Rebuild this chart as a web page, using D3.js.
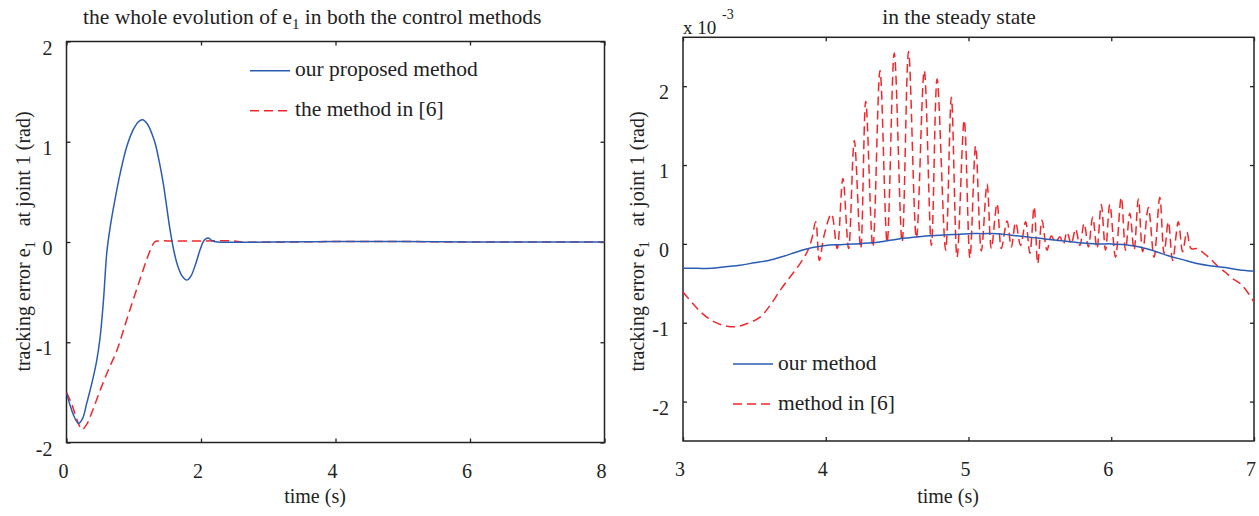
<!DOCTYPE html>
<html>
<head>
<meta charset="utf-8">
<script src="https://cdn.jsdelivr.net/npm/d3@7"></script>
<style>
  html, body { margin: 0; padding: 0; background: #fff; }
  svg { display: block; }
  text { font-family: "Liberation Serif", "DejaVu Serif", serif; fill: #222; }
</style>
</head>
<body>
<svg id="chart" width="1259" height="516"></svg>
<script>
// ---------------- DATA ----------------
// Left panel: whole evolution of e1 (rad)
const leftBlueT = [0, 0.05, 0.10, 0.18, 0.24, 0.30, 0.38, 0.45, 0.50, 0.55, 0.60, 0.65, 0.72, 0.80, 0.90, 1.00, 1.07, 1.13, 1.20, 1.27, 1.32, 1.38, 1.44, 1.49, 1.54, 1.60, 1.66, 1.72, 1.79, 1.85, 1.92, 1.99, 2.05, 2.11, 2.17, 2.25, 3.0, 4.0, 5.0, 6.0, 7.0, 8.0];
const leftBlueV = [-1.51, -1.62, -1.72, -1.81, -1.76, -1.61, -1.40, -1.18, -0.95, -0.58, -0.10, 0.15, 0.42, 0.69, 0.96, 1.13, 1.20, 1.22, 1.18, 1.08, 0.98, 0.80, 0.58, 0.35, 0.12, -0.10, -0.25, -0.34, -0.38, -0.34, -0.22, -0.07, 0.02, 0.04, 0.01, 0, 0, 0.005, 0.005, 0, 0, 0];
const leftRedT = [0, 0.08, 0.16, 0.23, 0.30, 0.40, 0.50, 0.62, 0.75, 0.87, 0.99, 1.10, 1.19, 1.26, 1.31, 1.37, 1.6, 2.0, 2.5, 2.6, 4.0, 5.0, 6.0, 8.0];
const leftRedV = [-1.50, -1.62, -1.78, -1.87, -1.82, -1.66, -1.48, -1.28, -1.08, -0.83, -0.58, -0.36, -0.18, -0.06, 0.0, 0.01, 0.01, 0.01, 0.01, 0, 0.005, 0.005, 0, 0];
const leftXTicks = [0, 2, 4, 6, 8];
const leftYTicks = [-2, -1, 0, 1, 2];

// Right panel: steady state (x 10^-3 rad)
const rightBlueT = [3.0, 3.1, 3.2, 3.3, 3.4, 3.5, 3.6, 3.7, 3.8, 3.9, 4.0, 4.1, 4.2, 4.3, 4.4, 4.5, 4.6, 4.7, 4.8, 4.9, 5.0, 5.1, 5.2, 5.3, 5.4, 5.5, 5.6, 5.7, 5.8, 5.9, 6.0, 6.1, 6.2, 6.3, 6.4, 6.5, 6.6, 6.7, 6.8, 6.9, 7.0];
const rightBlueV = [-0.31, -0.31, -0.31, -0.29, -0.27, -0.24, -0.21, -0.16, -0.10, -0.05, -0.02, -0.01, 0.0, 0.01, 0.03, 0.06, 0.08, 0.10, 0.11, 0.12, 0.13, 0.13, 0.13, 0.11, 0.09, 0.07, 0.05, 0.03, 0.01, 0.0, 0.0, -0.01, -0.04, -0.09, -0.15, -0.20, -0.25, -0.28, -0.30, -0.33, -0.345];
const rightRedT = [3.00, 3.07, 3.14, 3.22, 3.30, 3.37, 3.45, 3.54, 3.61, 3.68, 3.75, 3.82, 3.87, 3.90, 3.93, 3.955, 3.99, 4.04, 4.08, 4.12, 4.16, 4.20, 4.245, 4.28, 4.33, 4.38, 4.43, 4.48, 4.535, 4.58, 4.635, 4.69, 4.74, 4.78, 4.84, 4.88, 4.92, 4.97, 5.01, 5.05, 5.09, 5.13, 5.16, 5.20, 5.23, 5.27, 5.30, 5.33, 5.365, 5.40, 5.43, 5.46, 5.485, 5.515, 5.55, 5.58, 5.61, 5.64, 5.665, 5.69, 5.72, 5.75, 5.78, 5.81, 5.84, 5.87, 5.90, 5.93, 5.96, 5.99, 6.03, 6.07, 6.10, 6.13, 6.16, 6.19, 6.22, 6.26, 6.30, 6.34, 6.37, 6.40, 6.43, 6.47, 6.50, 6.53, 6.56, 6.60, 6.65, 6.70, 6.75, 6.80, 6.85, 6.90, 6.95, 7.00];
const rightRedV = [-0.61, -0.76, -0.89, -0.99, -1.04, -1.05, -1.01, -0.93, -0.78, -0.59, -0.42, -0.25, -0.10, 0.05, 0.28, -0.21, 0.12, 0.38, -0.06, 0.83, -0.06, 1.31, -0.06, 1.81, -0.04, 2.20, 0.02, 2.42, 0.02, 2.44, 0.07, 2.20, -0.02, 2.09, -0.08, 1.86, -0.17, 1.57, -0.18, 1.24, -0.09, 0.76, -0.06, 0.51, -0.06, 0.29, -0.04, 0.27, -0.02, 0.28, -0.12, 0.47, -0.25, 0.30, -0.08, 0.10, 0.02, 0.09, 0.0, 0.15, 0.0, 0.19, -0.02, 0.26, -0.04, 0.34, -0.06, 0.50, -0.08, 0.50, -0.17, 0.59, -0.08, 0.39, -0.08, 0.57, -0.10, 0.46, -0.17, 0.59, -0.12, 0.28, -0.21, 0.28, -0.10, 0.15, -0.06, -0.06, -0.12, -0.20, -0.29, -0.36, -0.44, -0.50, -0.60, -0.74];
const rightXTicks = [3, 4, 5, 6, 7];
const rightYTicks = [-2, -1, 0, 1, 2];

const leftTitle = ["the whole evolution of e", "1", " in both the control methods"];
const rightTitle = "in the steady state";
const yLabelParts = ["tracking error e", "1", "   at joint 1 (rad)"];
const xLabel = "time (s)";
const leftLegend = ["our proposed method", "the method in [6]"];
const rightLegend = ["our method", "method in [6]"];
const exponentLabel = ["x 10", "-3"];

// ---------------- STYLE ----------------
const BLUE = "#2a5cb4";
const RED = "#f2262b";
const AXIS = "#222";
const FS = 20;     // tick labels, axis labels
const FS_BIG = 21.5; // titles, legends

const svg = d3.select("#chart");

function panel(opts) {
  const { x, y, xTicks, yTicks, id } = opts;
  const g = svg.append("g");
  const [x0, x1] = x.range();
  const [y0, y1] = y.range(); // y0 bottom, y1 top

  g.append("clipPath").attr("id", id).append("rect")
    .attr("x", x0).attr("y", y1).attr("width", x1 - x0).attr("height", y0 - y1);

  const fmt = d => String(d);
  const ax = [];
  ax.push(g.append("g").attr("transform", `translate(0,${y0})`)
    .call(d3.axisBottom(x).tickValues(xTicks).tickSizeInner(-4).tickSizeOuter(0).tickPadding(21).tickFormat(fmt)));
  ax.push(g.append("g").attr("transform", `translate(0,${y1})`)
    .call(d3.axisTop(x).tickValues(xTicks).tickSizeInner(-4).tickSizeOuter(0).tickFormat("")));
  ax.push(g.append("g").attr("transform", `translate(${x0},0)`)
    .call(d3.axisLeft(y).tickValues(yTicks).tickSizeInner(-4).tickSizeOuter(0).tickPadding(14).tickFormat(fmt)));
  ax.push(g.append("g").attr("transform", `translate(${x1},0)`)
    .call(d3.axisRight(y).tickValues(yTicks).tickSizeInner(-4).tickSizeOuter(0).tickFormat("")));
  ax.forEach(a => {
    a.select(".domain").remove();
    a.selectAll("line").attr("stroke", AXIS).attr("stroke-width", 1.3);
    a.selectAll("text").attr("font-family", "Liberation Serif").attr("font-size", FS).attr("fill", AXIS);
  });
  ax[0].selectAll("text").attr("dx", -3.5);
  ax[2].selectAll("text").attr("dy", "0.63em");

  g.append("rect").attr("x", x0).attr("y", y1).attr("width", x1 - x0).attr("height", y0 - y1)
    .attr("fill", "none").attr("stroke", AXIS).attr("stroke-width", 1.5);

  const line = d3.line().x(d => x(d[0])).y(d => y(d[1])).curve(d3.curveCatmullRom.alpha(0.5));
  const lines = g.append("g").attr("clip-path", `url(#${id})`);
  opts.series.forEach(s => {
    lines.append("path").attr("d", line(d3.zip(s.t, s.v)))
      .attr("fill", "none").attr("stroke", s.color).attr("stroke-width", 1.5)
      .attr("stroke-dasharray", s.dash || null);
  });
  return g;
}

function yLabel(cx, cy) {
  const t = svg.append("text").attr("transform", `translate(${cx},${cy}) rotate(-90)`)
    .attr("text-anchor", "middle").attr("font-size", FS).style("white-space", "pre");
  t.append("tspan").text(yLabelParts[0]);
  t.append("tspan").attr("font-size", 14).attr("dy", 5).text(yLabelParts[1]);
  t.append("tspan").attr("dy", -5).text(yLabelParts[2]);
}

function legend(x, y, labels, colors, dashes) {
  labels.forEach((lab, i) => {
    const yy = y + i * 40;
    svg.append("line").attr("x1", x).attr("x2", x + 40).attr("y1", yy).attr("y2", yy)
      .attr("stroke", colors[i]).attr("stroke-width", 1.5).attr("stroke-dasharray", dashes[i] || null);
    svg.append("text").attr("x", x + 45).attr("y", yy + 5.5).attr("font-size", FS_BIG).text(lab);
  });
}

// ---------------- LEFT PANEL ----------------
const xL = d3.scaleLinear().domain([0, 8]).range([66.5, 604.5]);
const yL = d3.scaleLinear().domain([-2, 2]).range([442.5, 41.5]);
panel({ id: "clipL", x: xL, y: yL, xTicks: leftXTicks, yTicks: leftYTicks, series: [
  { t: leftRedT, v: leftRedV, color: RED, dash: "9,5" },
  { t: leftBlueT, v: leftBlueV, color: BLUE }
]});

// ---------------- RIGHT PANEL ----------------
const xR = d3.scaleLinear().domain([3, 7]).range([683, 1254]);
const yR = d3.scaleLinear().domain([-2.5, 2.62]).range([441, 37.3]);
panel({ id: "clipR", x: xR, y: yR, xTicks: rightXTicks, yTicks: rightYTicks, series: [
  { t: rightRedT, v: rightRedV, color: RED, dash: "9,5" },
  { t: rightBlueT, v: rightBlueV, color: BLUE }
]});

// ---------------- TEXT ----------------
const tt = svg.append("text").attr("x", 83).attr("y", 24).attr("font-size", FS_BIG).style("white-space", "pre");
tt.append("tspan").text(leftTitle[0]);
tt.append("tspan").attr("font-size", 15).attr("dy", 5).text(leftTitle[1]);
tt.append("tspan").attr("dy", -5).text(leftTitle[2]);

svg.append("text").attr("x", 959).attr("y", 24).attr("text-anchor", "middle").attr("font-size", FS_BIG).text(rightTitle);
svg.append("text").attr("x", 683).attr("y", 34).attr("font-size", 19).text(exponentLabel[0]);
svg.append("text").attr("x", 722).attr("y", 19).attr("font-size", 14).text(exponentLabel[1]);

yLabel(30, 241.5);
yLabel(644, 241.5);

svg.append("text").attr("x", 315).attr("y", 503).attr("text-anchor", "middle").attr("font-size", FS).text(xLabel);
svg.append("text").attr("x", 948).attr("y", 503).attr("text-anchor", "middle").attr("font-size", FS).text(xLabel);

legend(250, 70.7, leftLegend, [BLUE, RED], [null, "9,5"]);
legend(733, 364, rightLegend, [BLUE, RED], [null, "9,5"]);
</script>
</body>
</html>
